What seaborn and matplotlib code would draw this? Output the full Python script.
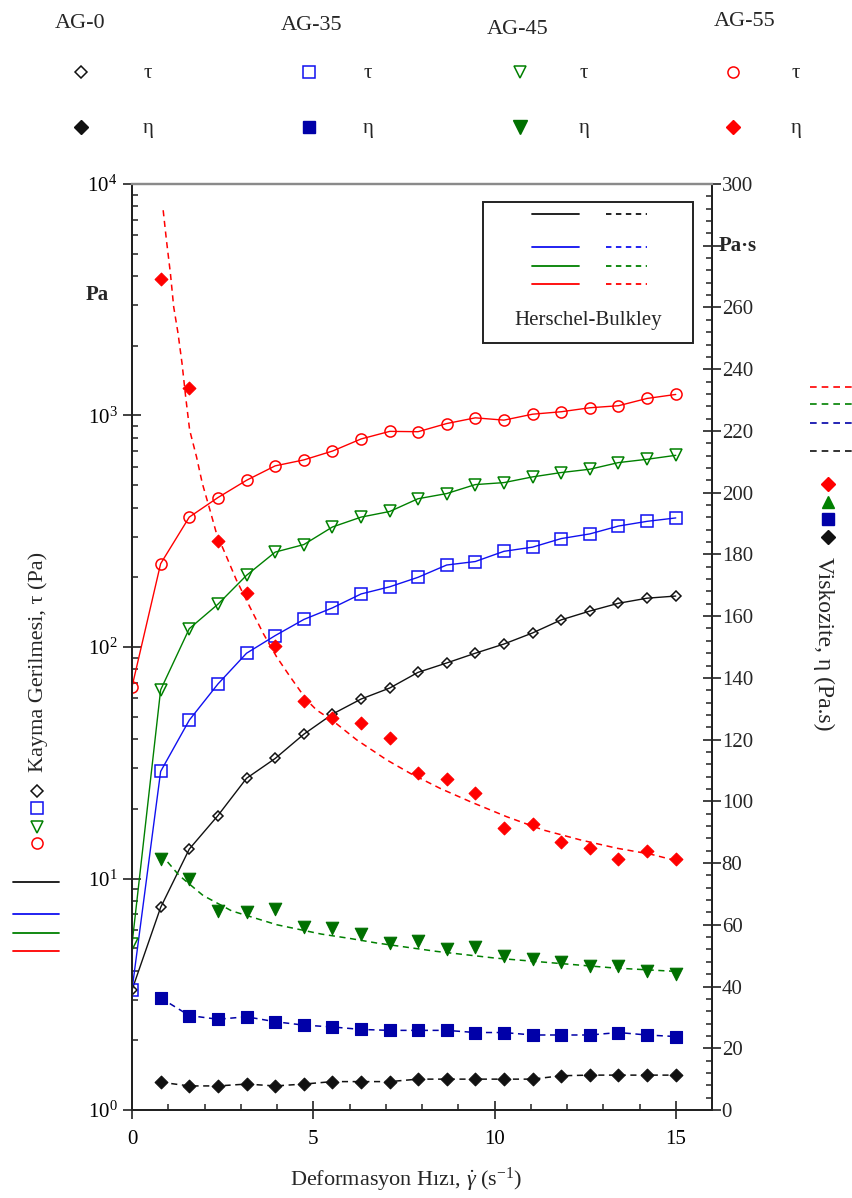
import numpy as np
import pandas as pd
import matplotlib
matplotlib.use("Agg")
import matplotlib.pyplot as plt
import seaborn as sns
from matplotlib.lines import Line2D
from matplotlib.patches import Rectangle
from matplotlib.ticker import LogLocator, MultipleLocator, NullFormatter, FixedLocator

# ---------------- data ----------------
shear_rate = [0, 0.79, 1.58, 2.37, 3.16, 3.95, 4.74, 5.53, 6.32, 7.11,
              7.89, 8.68, 9.47, 10.26, 11.05, 11.84, 12.63, 13.42, 14.21, 15.0]

tau_ag0 = [3.3, 7.5, 13.4, 18.7, 27.1, 33.0, 42.0, 51.3, 59.6, 66.5,
           77.7, 85.3, 94.0, 103, 115, 131, 143, 154.5, 162.5, 166]
tau_ag35 = [3.3, 29.0, 48.3, 69.2, 94.0, 112, 131.5, 147.6, 169.5, 182,
            200, 226, 234, 259, 270, 294, 308, 333, 349, 361]
tau_ag45 = [5.2, 65.3, 120, 153, 204, 257, 277, 330, 364, 385,
            437, 460, 503, 513, 543, 567, 586, 626, 647, 673]
tau_ag55 = [67.3, 229, 364, 442, 525, 606, 643, 702, 792, 854,
            851, 923, 977, 955, 1013, 1038, 1080, 1102, 1185, 1233]

eta_rate = shear_rate[1:]
eta_ag0 = [9.0, 7.8, 7.8, 8.4, 7.8, 8.4, 9.2, 9.2, 9.2, 10.0,
           10.0, 10.0, 10.0, 10.0, 11.1, 11.3, 11.3, 11.3, 11.3]
eta_ag35 = [36.3, 30.6, 29.4, 30.2, 28.6, 27.5, 26.9, 26.1, 25.8, 25.8,
            25.8, 25.1, 25.1, 24.3, 24.3, 24.3, 25.1, 24.3, 23.8]
eta_ag45 = [81.2, 74.9, 64.5, 64.1, 65.0, 59.3, 59.1, 57.1, 54.1, 54.9,
            52.2, 52.8, 49.8, 48.9, 47.8, 46.6, 46.6, 44.9, 44.2]
eta_ag55 = [269.1, 233.8, 184.2, 167.6, 150.4, 132.4, 126.9, 125.5, 120.4, 109.1,
            107.2, 102.8, 91.5, 92.6, 86.9, 85.0, 81.3, 83.9, 81.3]

# Herschel-Bulkley viscosity fit curves
fit55_rate = [0.86, 0.95, 1.06, 1.15, 1.27, 1.38, 1.48, 1.59, 1.78, 1.94, 2.15, 2.33,
              2.61, 2.88, 3.25, 3.62, 3.99, 4.36, 4.82, 5.09, 5.55, 6.2, 7.03, 7.67,
              8.5, 9.33, 10.34, 11.35, 12.37, 13.38, 14.3, 14.94]
fit55_eta = [291.5, 281.8, 271.0, 260.2, 251.6, 241.9, 231.1, 220.3, 211.6, 203.0,
             194.4, 186.8, 179.2, 171.7, 163.0, 154.4, 146.8, 140.4, 132.8, 129.6,
             126.0, 119.9, 113.4, 109.1, 104.2, 99.9, 95.0, 90.7, 87.5, 84.8, 82.9, 81.0]
fit45_rate = [0.79, 1.3, 1.96, 2.75, 4.0, 5.22, 6.0, 6.75, 8.39, 10.03, 11.67, 13.31, 15.0]
fit45_eta = [83.0, 76.0, 69.5, 64.5, 60.0, 57.0, 55.6, 54.1, 51.4, 49.2, 47.6, 46.0, 44.9]

samples = ["AG-0", "AG-35", "AG-45", "AG-55"]

# ---------------- style ----------------
sns.set_theme(style="white")
plt.rcParams["font.family"] = ["Liberation Serif", "DejaVu Serif"]
plt.rcParams["mathtext.fontset"] = "custom"
plt.rcParams["mathtext.rm"] = "Liberation Serif"
plt.rcParams["mathtext.it"] = "Liberation Serif:italic"
plt.rcParams["mathtext.bf"] = "Liberation Serif:bold"

BLACK = "#111111"
BLUE = "#1010F0"
NAVY = "#0000A8"
GREEN = "#008000"
DGREEN = "#007000"
RED = "#FF0000"

W, H = 852, 1198
fig = plt.figure(figsize=(W / 100, H / 100), dpi=100)
ax = fig.add_axes([132 / W, 1 - 1110 / H, 580 / W, 926 / H])
ax.set_yscale("log")
ax2 = ax.twinx()


def F(x, y):
    return (x / W, 1 - y / H)


# shear stress (left, log axis)
tau_series = [
    (tau_ag0, BLACK, "D", 5.5),
    (tau_ag35, BLUE, "s", 8.5),
    (tau_ag45, GREEN, "v", 9),
    (tau_ag55, RED, "o", 8),
]
for vals, c, m, ms in tau_series:
    sns.lineplot(x=shear_rate, y=vals, ax=ax, color=c, lw=1.0, marker=m,
                 markersize=ms, markerfacecolor="none", markeredgecolor=c,
                 markeredgewidth=1.1, estimator=None, sort=False)

# viscosity (right, linear axis)
sns.lineplot(x=fit55_rate, y=fit55_eta, ax=ax2, color=RED, lw=1.1,
             linestyle=(0, (4, 3)), estimator=None, sort=False)
sns.lineplot(x=fit45_rate, y=fit45_eta, ax=ax2, color=GREEN, lw=1.1,
             linestyle=(0, (4, 3)), estimator=None, sort=False)
sns.lineplot(x=eta_rate, y=eta_ag35, ax=ax2, color=NAVY, lw=1.1,
             linestyle=(0, (4, 3)), estimator=None, sort=False)
sns.lineplot(x=eta_rate, y=eta_ag0, ax=ax2, color=BLACK, lw=1.1,
             linestyle=(0, (4, 3)), estimator=None, sort=False)

eta_series = [
    (eta_ag0, BLACK, "D", 6.5),
    (eta_ag35, NAVY, "s", 8.5),
    (eta_ag45, DGREEN, "v", 9),
    (eta_ag55, RED, "D", 6.5),
]
for vals, c, m, ms in eta_series:
    sns.scatterplot(x=eta_rate, y=vals, ax=ax2, color=c, marker=m,
                    s=ms ** 2, edgecolor=c, linewidth=0.8, zorder=4)

# ---------------- axes ----------------
ax.set_xlim(0, 16)
ax.set_ylim(1, 1e4)
ax2.set_ylim(0, 300)

ax.xaxis.set_major_locator(FixedLocator([0, 5, 10, 15]))
ax.xaxis.set_minor_locator(MultipleLocator(1))
ax.yaxis.set_major_locator(LogLocator(base=10, numticks=10))
ax.yaxis.set_minor_locator(LogLocator(base=10, subs=np.arange(2, 10), numticks=10))
ax.yaxis.set_minor_formatter(NullFormatter())

ax2.yaxis.set_minor_locator(MultipleLocator(4))
r_ticks = list(range(0, 301, 20))
ax2.set_yticks(r_ticks)
ax2.set_yticklabels(["" if t == 280 else str(t) for t in r_ticks])

tick_col = "#222222"
ax.tick_params(axis="both", which="major", direction="inout", length=13,
               width=1.2, color=tick_col, labelsize=15, labelcolor="black")
ax.tick_params(axis="x", which="major", pad=8)
ax.tick_params(axis="y", which="major", pad=4, right=False)
ax.tick_params(axis="both", which="minor", direction="in", length=4.5,
               width=1.1, color=tick_col)
ax.tick_params(axis="y", which="minor", right=False, left=True)
ax.tick_params(axis="x", which="both", top=False, bottom=True)
ax2.tick_params(axis="y", which="major", direction="inout", length=13,
                width=1.2, color=tick_col, labelsize=15, pad=0.5)
ax2.tick_params(axis="y", which="minor", direction="in", length=4.5,
                width=1.1, color=tick_col)

for a in (ax, ax2):
    a.grid(False)
    a.set_xlabel("")
    a.set_ylabel("")
    for s in ("left", "bottom", "right"):
        a.spines[s].set_color("#222222")
        a.spines[s].set_linewidth(1.4)
    a.spines["top"].set_color("#8a8a8a")
    a.spines["top"].set_linewidth(1.6)
ax.patch.set_visible(False)

# unit labels on the axes
ax.text(-0.04, 3300, "Pa", transform=ax.get_yaxis_transform(), ha="right",
        va="center", fontsize=15, fontweight="bold")
ax2.text(1.012, 280, "Pa·s", transform=ax2.get_yaxis_transform(), ha="left",
         va="center", fontsize=15, fontweight="bold")

# x label
fig.text(*F(406, 1180), r"Deformasyon Hızı, $\dot{\gamma}$ (s$^{-1}$)",
         ha="center", va="center", fontsize=16)

# left label with symbol key
fig.text(*F(38, 772), "Kayma Gerilmesi, τ (Pa)", rotation=90, ha="center",
         va="bottom", fontsize=16)
for (y, c, m, ms) in [(790.7, BLACK, "D", 6), (808.3, BLUE, "s", 8.5),
                      (826.7, GREEN, "v", 8.5), (843.3, RED, "o", 8)]:
    fig.add_artist(Line2D([F(36.7, y)[0]], [F(36.7, y)[1]], transform=fig.transFigure,
                          marker=m, ms=ms, mfc="none", mec=c, mew=1.1, ls="none"))
for (y, c) in [(881.7, BLACK), (914, BLUE), (933, GREEN), (951, RED)]:
    fig.add_artist(Line2D([13 / W, 59 / W], [1 - y / H] * 2, transform=fig.transFigure,
                          color=c, lw=1.3))

# right label with symbol key
fig.text(*F(824, 557), "Viskozite, η (Pa.s)", rotation=270, ha="center",
         va="top", fontsize=17)
for (y, c) in [(386.7, RED), (404.3, GREEN), (423.3, NAVY), (451, BLACK)]:
    fig.add_artist(Line2D([810 / W, 852 / W], [1 - y / H] * 2, transform=fig.transFigure,
                          color=c, lw=1.2, ls=(0, (4, 3))))
for (y, c, m, ms) in [(484, RED, "D", 7), (501.7, GREEN, "^", 9),
                      (519.3, NAVY, "s", 9), (536.7, BLACK, "D", 7)]:
    fig.add_artist(Line2D([827.7 / W], [1 - y / H], transform=fig.transFigure,
                          marker=m, ms=ms, mfc=c, mec=c, ls="none"))

# top legend
hdr = [(80, 23), (312, 26), (518, 29), (745, 21)]
mk_x = [81, 309, 520, 733]
sym_x = [148, 368, 584, 796]
open_m = [("D", BLACK, 6.5), ("s", BLUE, 8.5), ("v", GREEN, 9), ("o", RED, 8)]
fill_m = [("D", BLACK, 7), ("s", NAVY, 9), ("v", DGREEN, 9.5), ("D", RED, 7)]
for i, name in enumerate(samples):
    fig.text(*F(*hdr[i]), name, ha="center", va="center", fontsize=16)
    m, c, ms = open_m[i]
    fig.add_artist(Line2D([mk_x[i] / W], [1 - 72 / H], transform=fig.transFigure,
                          marker=m, ms=ms, mfc="none", mec=c, mew=1.1, ls="none"))
    m, c, ms = fill_m[i]
    fig.add_artist(Line2D([mk_x[i] / W], [1 - 127 / H], transform=fig.transFigure,
                          marker=m, ms=ms, mfc=c, mec=c, ls="none"))
    fig.text(*F(sym_x[i], 74), "τ", ha="center", va="center", fontsize=15)
    fig.text(*F(sym_x[i], 129), "η", ha="center", va="center", fontsize=15)

# Herschel-Bulkley key box
ax2.add_patch(Rectangle((0.605, 0.8283), 0.362, 0.1523, transform=ax2.transAxes,
                        facecolor="white", edgecolor="#222222", lw=1.4, zorder=6))
for (yy, c) in [(0.9676, BLACK), (0.932, BLUE), (0.911, GREEN), (0.892, RED)]:
    ax2.add_line(Line2D([0.69, 0.77], [yy, yy], transform=ax2.transAxes,
                        color=c, lw=1.3, zorder=7))
    ax2.add_line(Line2D([0.817, 0.888], [yy, yy], transform=ax2.transAxes,
                        color=c, lw=1.3, ls=(0, (3, 2.5)), zorder=7))
ax2.text(0.786, 0.853, "Herschel-Bulkley", transform=ax2.transAxes, ha="center",
         va="center", fontsize=15, zorder=7)

fig.savefig("out.png", dpi=100)
